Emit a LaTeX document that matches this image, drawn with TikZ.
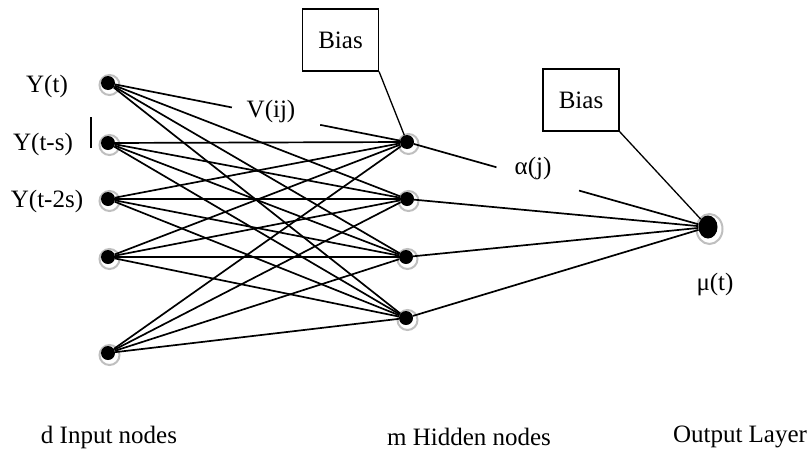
\documentclass[tikz,border=0pt]{standalone}
\usepackage{fontspec}
\setmainfont{Liberation Serif}
\usetikzlibrary{calc,shapes.geometric}
\pgfdeclarelayer{bg}
\pgfsetlayers{bg,main}
\tikzset{
  neuron/.style={circle, fill=black, inner sep=0pt, minimum size=14pt},
  outneuron/.style={ellipse, fill=black, inner sep=0pt, minimum width=19pt, minimum height=23pt},
  halo/.style={draw=gray!50, line width=2pt, fill=white},
  wire/.style={line width=1.7pt},
  thinwire/.style={line width=1.3pt},
  biasbox/.style={draw, line width=1.1pt, minimum width=76pt, minimum height=62pt, inner sep=0pt, font=\fontsize{25}{28}\selectfont},
  lbl/.style={font=\fontsize{25}{28}\selectfont, inner sep=0pt},
}
\begin{document}
\begin{tikzpicture}[x=1pt,y=-1pt]
\useasboundingbox (0,0) rectangle (810,450);
% input nodes
\node[neuron] (i1) at (108,83) {};
\node[neuron] (i2) at (108,143) {};
\node[neuron] (i3) at (108,199) {};
\node[neuron] (i4) at (108,257) {};
\node[neuron] (i5) at (108,353) {};
% hidden nodes
\node[neuron] (h1) at (407,142) {};
\node[neuron] (h2) at (407,199) {};
\node[neuron] (h3) at (406,257) {};
\node[neuron] (h4) at (406,318) {};
% output node
\node[outneuron] (o) at (708,227) {};
% bias boxes
\node[biasbox] (b1) at (340.5,40) {Bias};
\node[biasbox] (b2) at (581,100) {Bias};
% halos
\begin{pgfonlayer}{bg}
\foreach \n in {i1,i2,i3,i4,i5,h1,h2,h3,h4}
  \draw[halo] ($(\n)+(1.5,2)$) circle (10pt);
\draw[halo] ($(o)+(1.5,2)$) ellipse (13pt and 15pt);
\end{pgfonlayer}
% input -> hidden
\foreach \i in {1,...,5}{\foreach \h in {1,...,4}{%
  \ifnum\i\h=11 \else \draw[wire] (i\i) -- (h\h);\fi}}
\path (i1) -- (h1) coordinate[pos=0.41] (v1) coordinate[pos=0.72] (v2);
\draw[wire] (i1) -- (v1);
\draw[wire] (v2) -- (h1);
% hidden -> output
\path (h1) -- (o) coordinate[pos=0.29] (a1) coordinate[pos=0.58] (a2);
\draw[wire] (h1) -- (a1);
\draw[wire] (a2) -- (o);
\foreach \h in {2,3,4} \draw[wire] (h\h) -- (o);
% bias lines
\draw[thinwire] (b1.south east) -- (h1);
\draw[thinwire] (b2.south east) -- (o);
% stray bar
\draw[line width=2.6pt] (91,117) -- (91,148);
% labels
\node[lbl] (ly1) at (47,86) {Y(t)};
\node[lbl] (ly2) at (43,144) {Y(t-s)};
\node[lbl] (ly3) at (47,201) {Y(t-2s)};
\node[lbl] (lv) at (271,111) {V(ij)};
\node[lbl] (la) at (533,168) {α(j)};
\node[lbl] (lm) at (715,284) {μ(t)};
\node[lbl] (lin) at (109,437) {d Input nodes};
\node[lbl] (lhid) at (469,437) {m Hidden nodes};
\node[lbl] (lout) at (740,437) {Output Layer};
\end{tikzpicture}
\end{document}
